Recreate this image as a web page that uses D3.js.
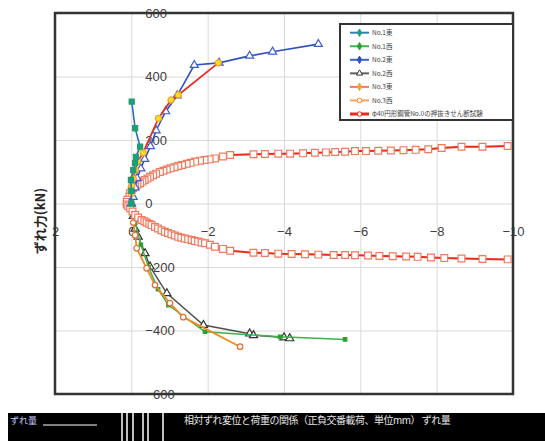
<!DOCTYPE html>
<html>
<head>
<meta charset="utf-8">
<script src="https://cdn.jsdelivr.net/npm/d3@7"></script>
<style>
  body { margin: 0; background: #fff; }
  svg { display: block; font-family: "Noto Sans CJK JP", "Noto Sans", sans-serif; }
</style>
</head>
<body>
<div id="chart"></div>
<script>
// ずれ変位 (mm) と ずれ力 (kN)
const xTicks = [2, 0, -2, -4, -6, -8, -10];
const yTicks = [600, 400, 200, 0, -200, -400, -600];

const no1East = [[0, 0], [0, 40], [0.01, 74], [-0.05, 105], [-0.1, 127], [-0.12, 147], [-0.23, 179], [-0.1, 237], [-0.01, 321]];
const no1West = [[0, 0], [-0.1, -60], [-0.25, -130], [-0.45, -200], [-0.7, -270], [-0.97, -320], [-1.93, -404], [-3.9, -420], [-5.6, -428]];
const no2East = [[0, 0], [-0.05, 20], [-0.1, 50], [-0.15, 80], [-0.25, 110], [-0.35, 140], [-0.5, 180], [-0.65, 230], [-0.9, 290], [-1.2, 340], [-1.65, 436], [-2.3, 443], [-3.1, 465], [-3.7, 478], [-4.9, 502]];
const no2West = [[0, 0], [-0.05, -40], [-0.1, -80], [-0.18, -105], [-0.36, -157], [-0.49, -199], [-0.93, -283], [-1.89, -383], [-3.1, -410], [-3.2, -415], [-4.0, -422], [-4.15, -425]];
const no3East = [[0, 30], [-0.01, 56], [-0.05, 79], [-0.1, 105], [-0.17, 132], [-0.31, 160], [-0.71, 268], [-1.04, 326], [-1.23, 342], [-2.28, 443]];
const no3West = [[0, 0], [-0.05, -60], [-0.1, -100], [-0.14, -141], [-0.4, -204], [-0.62, -257], [-1.01, -314], [-1.36, -358], [-2.85, -451]];

// 押抜き試験（上側枝は -10 から原点へ、下側枝は原点から -10 へ）
const refTop = [[-9.86, 181], [-9.2, 179], [-8.65, 179], [-8.13, 175], [-7.78, 171], [-7.45, 169], [-7.13, 168], [-6.8, 167], [-6.47, 166], [-6.15, 165], [-5.86, 165], [-5.6, 163], [-5.34, 162], [-5.1, 161], [-4.81, 160], [-4.5, 158], [-4.16, 157], [-3.85, 157], [-3.5, 156], [-3.2, 155], [-2.59, 153], [-2.4, 148], [-2.19, 142], [-2.05, 139], [-1.92, 137], [-1.8, 135], [-1.67, 132], [-1.55, 128], [-1.45, 125], [-1.33, 121], [-1.23, 118], [-1.13, 114], [-1.03, 111], [-0.93, 107], [-0.84, 103], [-0.75, 99], [-0.65, 94], [-0.57, 89], [-0.49, 84], [-0.42, 79], [-0.35, 74], [-0.29, 69], [-0.23, 64], [-0.16, 59], [-0.1, 54], [-0.05, 48], [-0.01, 43], [0.03, 32], [0.05, 22], [0.1, 12], [0.12, 5]];
const refBottom = [[0.12, -3], [0.08, -9], [0.03, -15], [-0.03, -25], [-0.1, -36], [-0.18, -44], [-0.27, -52], [-0.34, -56], [-0.4, -60], [-0.47, -64], [-0.53, -68], [-0.62, -74], [-0.7, -79], [-0.79, -84], [-0.88, -89], [-0.96, -93], [-1.05, -97], [-1.14, -101], [-1.23, -105], [-1.31, -108], [-1.4, -110], [-1.49, -113], [-1.58, -115], [-1.66, -118], [-1.75, -120], [-1.84, -123], [-1.93, -125], [-2.06, -130], [-2.19, -136], [-2.4, -143], [-2.59, -149], [-3.2, -155], [-3.5, -156], [-3.85, -158], [-4.2, -159], [-4.55, -160], [-4.9, -161], [-5.3, -162], [-5.6, -162], [-5.86, -163], [-6.2, -164], [-6.5, -165], [-6.85, -166], [-7.2, -167], [-7.5, -168], [-7.85, -170], [-8.2, -172], [-8.65, -173], [-9.2, -175], [-9.86, -176]];

const seriesNames = ["No.1東", "No.1西", "No.2東", "No.2西", "No.3東", "No.3西", "φ40円形鋼管No.0の押抜きせん断試験"];

const width = 545, height = 441;
const plot = { left: 55, right: 513, top: 13, bottom: 394 };

const svg = d3.select("#chart").append("svg")
  .attr("width", width)
  .attr("height", height);

const x = d3.scaleLinear().domain([2, -10]).range([plot.left, plot.right]);
const y = d3.scaleLinear().domain([-600, 600]).range([plot.bottom, plot.top]);

// グリッド
svg.append("g")
  .attr("transform", `translate(0,${plot.bottom})`)
  .call(d3.axisBottom(x).tickValues(xTicks).tickSize(-(plot.bottom - plot.top)).tickFormat(""))
  .call(g => g.select(".domain").remove())
  .call(g => g.selectAll("line").attr("stroke", "#d9d9d9"));

svg.append("g")
  .attr("transform", `translate(${plot.left},0)`)
  .call(d3.axisLeft(y).tickValues(yTicks).tickSize(-(plot.right - plot.left)).tickFormat(""))
  .call(g => g.select(".domain").remove())
  .call(g => g.selectAll("line").attr("stroke", "#d9d9d9"));

// 目盛ラベル（軸は原点で交差）
svg.append("g")
  .attr("transform", `translate(0,${y(0)})`)
  .call(d3.axisBottom(x).tickValues(xTicks).tickSize(0).tickPadding(23))
  .call(g => g.select(".domain").remove())
  .call(g => g.selectAll("text").attr("fill", "#404040").style("font-size", "13px")
    .style("font-family", "'Liberation Sans', Arial, sans-serif"));

svg.append("g")
  .attr("transform", `translate(${x(0)},0)`)
  .call(d3.axisRight(y).tickValues(yTicks).tickSize(0).tickPadding(14))
  .call(g => g.select(".domain").remove())
  .call(g => g.selectAll("text").attr("fill", "#404040").style("font-size", "13px")
    .style("font-family", "'Liberation Sans', Arial, sans-serif"));

// 外枠
svg.append("rect")
  .attr("x", plot.left).attr("y", plot.top)
  .attr("width", plot.right - plot.left).attr("height", plot.bottom - plot.top)
  .attr("fill", "none").attr("stroke", "#333").attr("stroke-width", 2.5);

// 軸タイトル
svg.append("text")
  .attr("transform", `translate(40,${221}) rotate(-90)`)
  .attr("text-anchor", "middle")
  .attr("dy", "0.35em")
  .attr("fill", "#262626")
  .style("font-size", "13px")
  .style("font-weight", "bold")
  .text("ずれ力(kN)");

const line = d3.line().x(d => x(d[0])).y(d => y(d[1]));

const series = [
  { data: no2West, line: "#505050", lw: 1.5, shape: d3.symbolTriangle, size: 28, fill: "#fff", stroke: "#333" },
  { data: no1West, line: "#3cb44b", lw: 1.5, shape: d3.symbolSquare, size: 12, fill: "#2ca02c", stroke: "#2ca02c" },
  { data: no3West, line: "#f08a24", lw: 1.8, shape: d3.symbolCircle, size: 24, fill: "#fff", stroke: "#e0703a" },
  { data: refTop.concat(refBottom), line: "#e8291c", lw: 2, shape: d3.symbolSquare, size: 46, fill: "#fff", stroke: "#ef7a5e" },
  { data: no2East, line: "#3050c0", lw: 1.6, shape: d3.symbolTriangle, size: 28, fill: "#fff", stroke: "#3a5fd0" },
  { data: no3East, line: "#e33020", lw: 1.8, shape: d3.symbolCircle, size: 30, fill: "#f7e01e", stroke: "#f0a030" },
  { data: no1East, line: "#2e6fc0", lw: 1.6, shape: d3.symbolSquare, size: 26, fill: "#1f9e73", stroke: "#1f9e73" }
];

series.forEach(s => {
  svg.append("path")
    .datum(s.data)
    .attr("fill", "none")
    .attr("stroke", s.line)
    .attr("stroke-width", s.lw)
    .attr("d", line);
  svg.append("g").selectAll("path")
    .data(s.data)
    .join("path")
    .attr("transform", d => `translate(${x(d[0])},${y(d[1])})`)
    .attr("d", d3.symbol(s.shape, s.size))
    .attr("fill", s.fill)
    .attr("stroke", s.stroke)
    .attr("stroke-width", 1.2);
});

// 凡例
const legendItems = [
  { line: "#2e7fc1", shape: d3.symbolDiamond, fill: "#1f9e73", stroke: "#1f9e73" },
  { line: "#3cb44b", shape: d3.symbolDiamond, fill: "#2ca02c", stroke: "#2ca02c" },
  { line: "#3a5fd0", shape: d3.symbolDiamond, fill: "#3050c0", stroke: "#3050c0" },
  { line: "#606060", shape: d3.symbolTriangle, fill: "#fff", stroke: "#333" },
  { line: "#ef7a5e", shape: d3.symbolDiamond, fill: "#f0a030", stroke: "#f0a030" },
  { line: "#f4a460", shape: d3.symbolCircle, fill: "#fff", stroke: "#f08a24" },
  { line: "#e8291c", shape: d3.symbolCircle, fill: "#fff", stroke: "#e8291c" }
];

const legend = svg.append("g");
legend.append("rect")
  .attr("x", 340).attr("y", 24).attr("width", 173).attr("height", 96)
  .attr("fill", "#fff").attr("stroke", "#333").attr("stroke-width", 2);

const ly = d3.scalePoint().domain(d3.range(seriesNames.length)).range([32.7, 114]);
seriesNames.forEach((name, i) => {
  const it = legendItems[i];
  const yy = ly(i);
  legend.append("line")
    .attr("x1", 350).attr("x2", 369).attr("y1", yy).attr("y2", yy)
    .attr("stroke", it.line).attr("stroke-width", i === 6 ? 3 : 2);
  legend.append("path")
    .attr("transform", `translate(359.5,${yy})`)
    .attr("d", d3.symbol(it.shape, 16))
    .attr("fill", it.fill).attr("stroke", it.stroke).attr("stroke-width", 1);
  legend.append("text")
    .attr("x", 372).attr("y", yy).attr("dy", "0.35em")
    .attr("fill", "#404040")
    .style("font-size", "6.5px")
    .text(name);
});

// 下部の崩れた帯
const band = svg.append("g");
band.append("rect").attr("x", 8).attr("y", 413).attr("width", 537).attr("height", 28).attr("fill", "#000");
band.append("line").attr("x1", 43).attr("x2", 97).attr("y1", 425).attr("y2", 425).attr("stroke", "#fff");
band.selectAll(".vl").data([122, 127, 133, 143, 148, 163]).join("line")
  .attr("x1", d => d).attr("x2", d => d).attr("y1", 413).attr("y2", 441)
  .attr("stroke", "#fff").attr("stroke-width", 1.5);
band.append("text").attr("x", 10).attr("y", 421).attr("dy", "0.35em")
  .attr("fill", "#c8c8ff").style("font-size", "9px").text("ずれ量");
band.append("text").attr("x", 184).attr("y", 420).attr("dy", "0.35em")
  .attr("fill", "#e8e8e8").style("font-size", "10px").style("letter-spacing", "-0.5px")
  .text("相対ずれ変位と荷重の関係（正負交番載荷、単位mm）  ずれ量");
</script>
</body>
</html>
